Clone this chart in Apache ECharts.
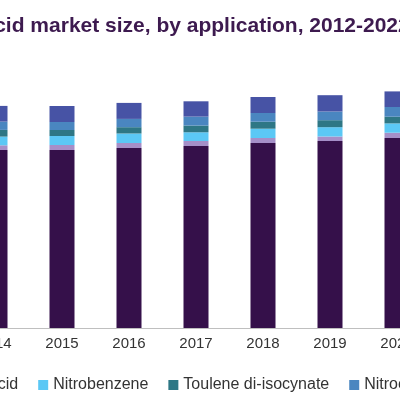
<!DOCTYPE html>
<html><head><meta charset="utf-8">
<script src="https://cdn.jsdelivr.net/npm/echarts@6/dist/echarts.min.js"></script>
<style>html,body{margin:0;padding:0;overflow:hidden;width:400px;height:400px;background:#fff}
#c{position:absolute;left:-300px;top:0;width:900px;height:400px}</style>
</head><body><div id="c"></div>
<script>
const years = ['2012','2013','2014','2015','2016','2017','2018','2019','2020','2021','2022'];
const ammoniumNitrate = [172,175,178,178,180,182,185,187,190,193,196];
const adipicAcid = [4.5,4.6,4.7,5,5,5,5,4.5,5.3,5.4,5.5];
const nitrobenzene = [8.5,8.6,8.7,9,9.5,8.7,9.3,9.3,9.3,9.5,9.7];
const tdi = [6,6.3,6.7,6,6.3,6.7,7,7,6.7,7,7.2];
const nitrochlorobenzene = [8,8.2,8.3,8,8.3,9,8.7,8.7,9.7,9.8,10];
const others = [15,15.3,15.7,16,16,15.3,16,16.3,15.6,16,16.3];
const names = ['Ammonium nitrate','Adipic acid','Nitrobenzene','Toulene di-isocynate','Nitrochlorobenzene','Others'];
const colors = ['#35104a','#a58fc8','#5bc8f5','#2e7785','#4a86c0','#4753a5'];
const data = [ammoniumNitrate,adipicAcid,nitrobenzene,tdi,nitrochlorobenzene,others];
const chart = echarts.init(document.getElementById('c'));
chart.setOption({
  animation:false,
  title:{text:'Nitric acid market size, by application, 2012-2022 (USD Million)',left:218,top:11,
    textStyle:{fontFamily:'Liberation Sans',fontSize:21,fontWeight:'bold',color:'#3d1a4f'}},
  legend:{top:372,left:56,itemWidth:10,itemHeight:10,itemGap:20,icon:'rect',
    textStyle:{fontFamily:'Liberation Sans',fontSize:16,color:'#333'}},
  grid:{left:127.5,width:737,top:28,height:300},
  xAxis:{type:'category',data:years,axisTick:{show:false},
    axisLine:{lineStyle:{color:'#bfbfbf'}},
    axisLabel:{fontFamily:'Liberation Sans',fontSize:15,color:'#333',margin:8}},
  yAxis:{type:'value',min:0,max:300,show:false,splitLine:{show:false}},
  series:names.map((n,i)=>({name:n,type:'bar',stack:'a',barWidth:25,data:data[i],itemStyle:{color:colors[i]}}))
});
</script></body></html>
